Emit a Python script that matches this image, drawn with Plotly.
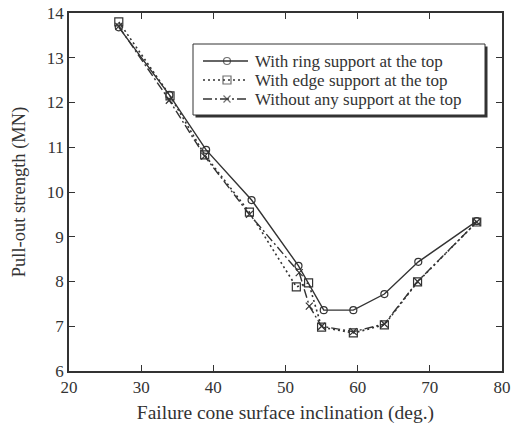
import plotly.graph_objects as go

# Data
x_ring = [26.9, 33.9, 39.0, 45.3, 51.8, 55.3, 59.4, 63.7, 68.4, 76.5]
y_ring = [13.68, 12.17, 10.94, 9.82, 8.35, 7.36, 7.36, 7.72, 8.44, 9.35]

x_edge = [26.9, 34.0, 38.8, 45.0, 51.5, 53.2, 55.0, 59.4, 63.7, 68.3, 76.5]
y_edge = [13.8, 12.15, 10.83, 9.55, 7.88, 7.97, 6.98, 6.85, 7.03, 7.99, 9.33]

x_none = [26.9, 33.9, 38.8, 45.0, 51.9, 53.3, 55.0, 59.4, 63.7, 68.3, 76.5]
y_none = [13.7, 12.05, 10.8, 9.5, 8.2, 7.45, 7.0, 6.88, 7.05, 8.0, 9.33]

names = ["With ring support at the top",
         "With edge support at the top",
         "Without any support at the top"]

INK = "#333333"
FONT = "Liberation Serif"

styles = [
    dict(dash="solid", width=1.4, symbol="circle-open", size=7),
    dict(dash="2px,3px", width=1.6, symbol="square-open", size=8),
    dict(dash="9px,3px,2px,3px", width=1.4, symbol="x-thin-open", size=7),
]
series = [(x_ring, y_ring), (x_edge, y_edge), (x_none, y_none)]

fig = go.Figure()
for (xs, ys), st, nm in zip(series, styles, names):
    fig.add_trace(go.Scatter(x=xs, y=ys, name=nm, mode="lines+markers", showlegend=False,
                             line=dict(color=INK, width=st["width"], dash=st["dash"]),
                             marker=dict(symbol=st["symbol"], size=st["size"], color=INK,
                                         line=dict(width=1.2, color=INK))))

axis_common = dict(showline=True, linewidth=1.5, linecolor=INK, mirror="ticks",
                   ticks="inside", ticklen=6, tickwidth=1.3, tickcolor=INK,
                   showgrid=False, zeroline=False, automargin=False,
                   tickfont=dict(family=FONT, size=17, color=INK))

fig.update_xaxes(range=[20, 80], dtick=10, tick0=20,
                 title_text="Failure cone surface inclination (deg.)", title_standoff=9,
                 title_font=dict(family=FONT, size=19.5, color=INK),
                 **axis_common)
fig.update_yaxes(range=[6, 14], dtick=1, tick0=6,
                 title_text="Pull-out strength (MN)", title_standoff=16,
                 title_font=dict(family=FONT, size=18.5, color=INK),
                 **axis_common)

# ---- hand-built legend on a hidden overlay axis measured in pixels ----
W, H = 511, 429
ML, MR, MT, MB = 69, 9, 13, 58
fig.update_layout(
    xaxis2=dict(overlaying="x", range=[ML, W - MR], visible=False, fixedrange=True),
    yaxis2=dict(overlaying="y", range=[H - MB, MT], visible=False, fixedrange=True),
)

box_l, box_t, box_r, box_b = 193, 44, 485, 115
fig.add_shape(type="rect", xref="x2", yref="y2", layer="below",
              x0=box_l + 2.5, x1=box_r + 2.5, y0=box_t + 2.5, y1=box_b + 2.5,
              fillcolor=INK, line=dict(width=0))
fig.add_shape(type="rect", xref="x2", yref="y2", layer="below",
              x0=box_l, x1=box_r, y0=box_t, y1=box_b,
              fillcolor="white", line=dict(width=1, color=INK))

row_y = [61, 80, 99]
for ry, st, nm in zip(row_y, styles, names):
    fig.add_trace(go.Scatter(x=[203, 227, 248], y=[ry, ry, ry], xaxis="x2", yaxis="y2",
                             mode="lines+markers", showlegend=False, hoverinfo="skip",
                             line=dict(color=INK, width=st["width"], dash=st["dash"]),
                             marker=dict(symbol=st["symbol"], size=[0, st["size"], 0], color=INK,
                                         line=dict(width=1.2, color=INK))))
    fig.add_annotation(x=254, y=ry, xref="x2", yref="y2", text=nm, showarrow=False,
                       xanchor="left", yanchor="middle", borderpad=0,
                       font=dict(family=FONT, size=17, color=INK))

fig.update_layout(
    width=W, height=H,
    margin=dict(l=ML, r=MR, t=MT, b=MB),
    paper_bgcolor="white", plot_bgcolor="white",
    font=dict(family=FONT, size=17, color=INK),
    showlegend=False,
)

fig.write_html("out.html")
